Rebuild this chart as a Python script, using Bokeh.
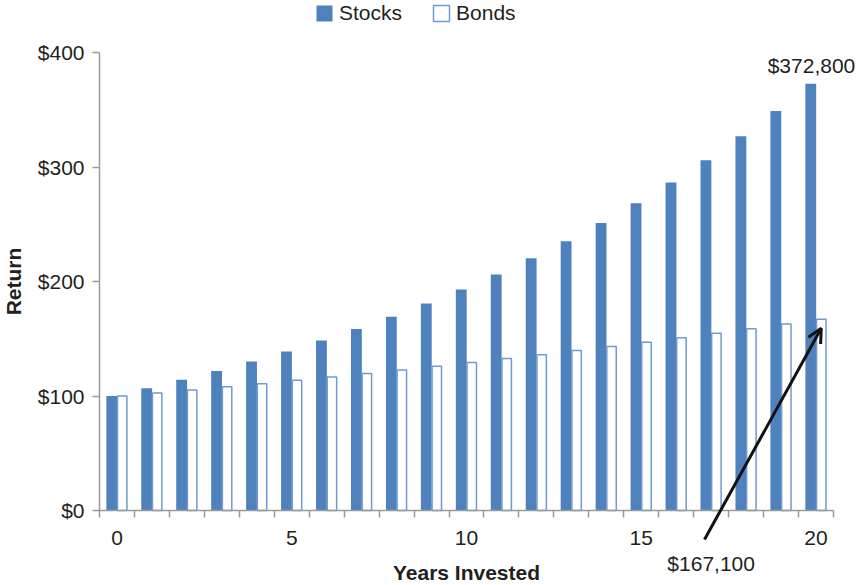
from bokeh.plotting import figure
from bokeh.models import (ColumnDataSource, FixedTicker, Legend, LegendItem, Label,
                          Arrow, OpenHead, CustomJSTickFormatter, Range1d)
from bokeh.embed import file_html
from bokeh.resources import INLINE

years = list(range(21))
stocks = [100, 106.8, 114.1, 121.8, 130.1, 138.9, 148.4, 158.5, 169.3, 180.8,
          193.1, 206.2, 220.2, 235.2, 251.2, 268.3, 286.5, 306.0, 326.8, 349.0, 372.8]
bonds = [100, 102.6, 105.3, 108.0, 110.8, 113.7, 116.7, 119.7, 122.8, 126.0,
         129.3, 132.7, 136.1, 139.7, 143.3, 147.0, 150.9, 154.8, 158.8, 162.9, 167.1]
x_tick_labels = [0, 5, 10, 15, 20]
y_ticks = [0, 100, 200, 300, 400]
stock_label = "$372,800"
bond_label = "$167,100"

FONT = "Liberation Sans"
FS = "21px"
TXT = "#231f20"
AX = "#9a9a9a"
STOCK = "#4f81bd"
BOND_LINE = "#6f9bd0"

W, H = 858, 585
# frame covers the whole canvas; axes are pinned at data locations
px_per_x = 734 / 21.0
px_per_y = 458 / 400.0
x0 = -0.5 - 99 / px_per_x
x1 = -0.5 + (W - 99) / px_per_x
y1 = 510 / px_per_y
y0 = -(H - 510) / px_per_y

src = ColumnDataSource(dict(
    xs=[y - 0.15 for y in years],
    xb=[y + 0.15 for y in years],
    stocks=stocks, bonds=bonds))

p = figure(width=W, height=H, x_range=Range1d(x0, x1), y_range=Range1d(y0, y1),
           output_backend="svg", toolbar_location=None, min_border=0)
p.outline_line_color = None
p.grid.grid_line_color = None
p.background_fill_color = "white"

rs = p.vbar(x="xs", top="stocks", width=0.31, source=src, fill_color=STOCK, line_color=None)
rb = p.vbar(x="xb", top="bonds", width=0.27, source=src, fill_color="white",
            line_color=BOND_LINE, line_width=1.5)

# x axis
xa = p.xaxis[0]
xa.fixed_location = 0
xa.bounds = (-0.5, 20.5)
xa.ticker = FixedTicker(ticks=x_tick_labels, minor_ticks=[y - 0.5 for y in years] + [20.5])
xa.major_tick_out = 0
xa.major_tick_in = 0
xa.minor_tick_out = 7
xa.minor_tick_in = 0
xa.minor_tick_line_color = AX
xa.minor_tick_line_width = 1.5
xa.axis_line_color = AX
xa.axis_line_width = 1.5
xa.major_label_standoff = 13
xa.major_label_text_font = FONT
xa.major_label_text_font_size = FS
xa.major_label_text_color = TXT
xa.axis_label = "Years Invested"
xa.axis_label_text_font = FONT
xa.axis_label_text_font_style = "bold"
xa.axis_label_text_font_size = FS
xa.axis_label_text_color = TXT
xa.axis_label_standoff = 13

ya = p.yaxis[0]
ya.fixed_location = -0.5
ya.bounds = (0, 400)
ya.ticker = FixedTicker(ticks=y_ticks)
ya.minor_tick_line_color = None
ya.major_tick_out = 7
ya.major_tick_in = 0
ya.major_tick_line_color = AX
ya.major_tick_line_width = 1.5
ya.axis_line_color = AX
ya.axis_line_width = 1.5
ya.formatter = CustomJSTickFormatter(code="return '$' + tick.toFixed(0);")
ya.major_label_standoff = 8
ya.major_label_text_font = FONT
ya.major_label_text_font_size = FS
ya.major_label_text_color = TXT
ya.axis_label = "Return"
ya.axis_label_text_font = FONT
ya.axis_label_text_font_style = "bold"
ya.axis_label_text_font_size = FS
ya.axis_label_text_color = TXT
ya.axis_label_standoff = 10

legend = Legend(items=[LegendItem(label="Stocks", renderers=[rs]),
                       LegendItem(label="Bonds", renderers=[rb])],
                orientation="horizontal", location=(314, H - 25),
                glyph_width=20, glyph_height=20, label_height=20,
                label_text_font=FONT, label_text_font_size=FS, label_text_color=TXT,
                background_fill_alpha=0, border_line_color=None,
                spacing=29, label_standoff=5, padding=0, margin=0)
p.add_layout(legend, "center")

p.add_layout(Label(x=years[-1] - 0.13, y=stocks[-1], y_offset=18, text=stock_label,
                   text_align="center", text_baseline="middle", text_font=FONT,
                   text_font_size=FS, text_color=TXT))
p.add_layout(Label(x=17.0, y=0, y_offset=-53, text=bond_label,
                   text_align="center", text_baseline="middle", text_font=FONT,
                   text_font_size=FS, text_color=TXT))
p.add_layout(Arrow(x_start=16.81, y_start=-25.3, x_end=years[-1] + 0.15, y_end=bonds[-1] - 8,
                   line_width=3, line_color="#111111",
                   end=OpenHead(size=14, line_width=3, line_color="#111111")))

open("out.html", "w").write(file_html(p, INLINE))
